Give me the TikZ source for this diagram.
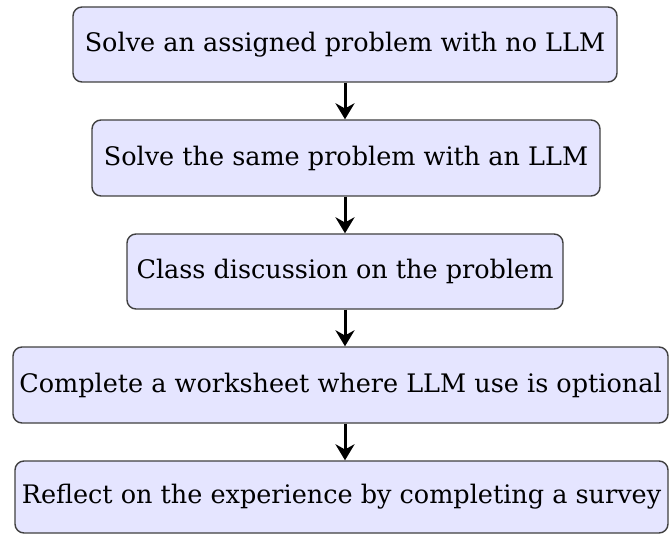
\documentclass[tikz,border=0pt]{standalone}
\usepackage{fontspec}
\setmainfont{DejaVu Serif}
\usetikzlibrary{arrows.meta}

\tikzset{
  stepbox/.style={draw=black!75,line width=1.4pt,fill=blue!10,rounded corners=9pt,
    font=\fontsize{25.5}{30}\selectfont,inner sep=0pt,align=center},
  flow/.style={line width=3pt,-{Stealth[length=16pt,width=19pt]}}
}

\begin{document}
\begin{tikzpicture}[x=1pt,y=-1pt]
    \useasboundingbox (0,0) rectangle (671,534);
	\node[stepbox,minimum width=544pt,minimum height=75pt] (b1) at (345,44.5) {Solve an assigned problem with no LLM};
	\node[stepbox,minimum width=508pt,minimum height=76pt] (b2) at (346,158) {Solve the same problem with an LLM};
	\node[stepbox,minimum width=436pt,minimum height=75pt] (b3) at (345,271.5) {Class discussion on the problem};
	\node[stepbox,minimum width=655pt,minimum height=76pt] (b4) at (340.5,385) {Complete a worksheet where LLM use is optional};
	\node[stepbox,minimum width=653pt,minimum height=72pt] (b5) at (341.5,497) {Reflect on the experience by completing a survey};
	% arrows between the steps
	\draw[flow] (b1.south -| b3.center) -- (b2.north -| b3.center);
	\draw[flow] (b2.south -| b3.center) -- (b3.north);
	\draw[flow] (b3.south) -- (b4.north -| b3.center);
	\draw[flow] (b4.south -| b3.center) -- (b5.north -| b3.center);
\end{tikzpicture}
\end{document}
